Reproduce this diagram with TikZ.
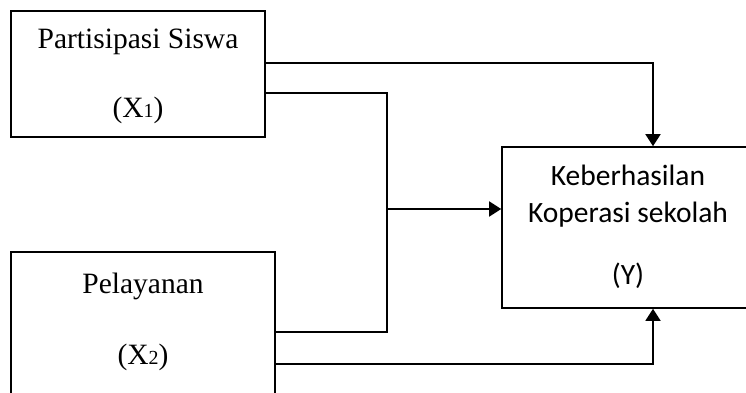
\documentclass[tikz,border=0pt]{standalone}
\usepackage{fontspec}
\setmainfont{Liberation Serif}
\newfontfamily\labelsans{Carlito}
\usetikzlibrary{arrows.meta}
\tikzset{
  box/.style={draw, line width=1.6bp, rectangle, inner sep=0pt},
  wire/.style={line width=1.6bp, line join=miter},
  arr/.style={wire, -{Triangle[length=12bp, width=15bp]}},
  serif/.style={anchor=base, inner sep=0pt, font=\fontsize{29.6}{34}\selectfont},
  sans/.style={anchor=base, inner sep=0pt, font=\labelsans\fontsize{29.6}{34}\selectfont},
}
\newcommand{\smallidx}[1]{{\fontsize{20}{20}\selectfont #1}}
\begin{document}
\begin{tikzpicture}[x=1bp, y=1bp]
  \clip (0,0) rectangle (746,392);
  \fill[white] (0,0) rectangle (746,392);

  % boxes
  \node[box, minimum width=254bp, minimum height=126bp] (x1) at (138,318) {};
  \node[box, minimum width=264bp, minimum height=150bp] (x2) at (143,65) {};
  \node[box, minimum width=252bp, minimum height=161bp] (y) at (628,164.5) {};

  % labels
  \node[serif] (x1a) at (138,344) {Partisipasi Siswa};
  \node[serif] (x1b) at (138,275) {(X\smallidx{1})};
  \node[serif] (x2a) at (143,99) {Pelayanan};
  \node[serif] (x2b) at (143,28) {(X\smallidx{2})};
  \node[sans] (ya) at (628,207) {Keberhasilan};
  \node[sans] (yb) at (628,170) {Koperasi sekolah};
  \node[sans] (yc) at (628,108) {(Y)};

  % junction points
  \coordinate (j1) at (387,299);
  \coordinate (j2) at (387,60);
  \coordinate (jm) at (387,183);
  \coordinate (r1) at (653,329);
  \coordinate (r2) at (653,28);

  % connectors
  \draw[arr] (x1.east |- r1) -- (r1) -- (y.north -| r1);
  \draw[wire] (x1.east |- j1) -- (j1) -- (j2) -- (x2.east |- j2);
  \draw[arr] (jm) -- (y.west |- jm);
  \draw[arr] (x2.east |- r2) -- (r2) -- (y.south -| r2);
\end{tikzpicture}
\end{document}
